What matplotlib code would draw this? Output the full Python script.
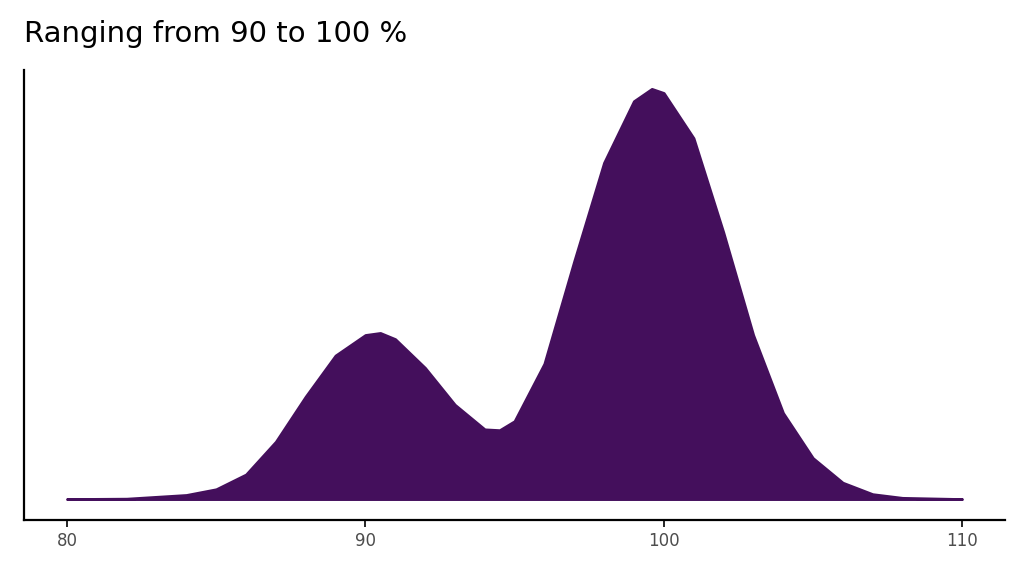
import matplotlib
matplotlib.use("Agg")
import matplotlib.pyplot as plt

x_vals = [80, 82, 84, 85, 86, 87, 88, 89, 90, 90.5, 91, 92, 93, 94, 94.5, 95, 96, 97, 98, 99, 99.6, 100, 101, 102, 103, 104, 105, 106, 107, 108, 110]
density = [0, 0.001, 0.01, 0.024, 0.06, 0.14, 0.25, 0.35, 0.40, 0.405, 0.39, 0.32, 0.23, 0.17, 0.168, 0.19, 0.33, 0.58, 0.82, 0.97, 1.0, 0.99, 0.88, 0.65, 0.40, 0.21, 0.10, 0.04, 0.012, 0.003, 0]
xticks = [80, 90, 100, 110]

fig = plt.figure(figsize=(10.24, 5.76), dpi=100)
ax = fig.add_axes([24/1024, 1-520/576, (1005-24)/1024, (520-70)/576])
ax.fill_between(x_vals, density, color="#440f5c", lw=2, edgecolor="#440f5c")
ax.set_xlim(78.56, 111.44)
ax.set_ylim(-0.051, 1.046)
ax.set_xticks(xticks)
ax.set_xticklabels([str(t) for t in xticks], color="#4d4d4d", fontsize=12)
ax.set_yticks([])
for s in ["top", "right"]:
    ax.spines[s].set_visible(False)
for s in ["left", "bottom"]:
    ax.spines[s].set_linewidth(1.6)
ax.tick_params(axis="x", length=5, width=1.2)
fig.text(24/1024, 1-48/576, "Ranging from 90 to 100 %", fontsize=21, va="bottom", ha="left")
fig.savefig("out.png")
